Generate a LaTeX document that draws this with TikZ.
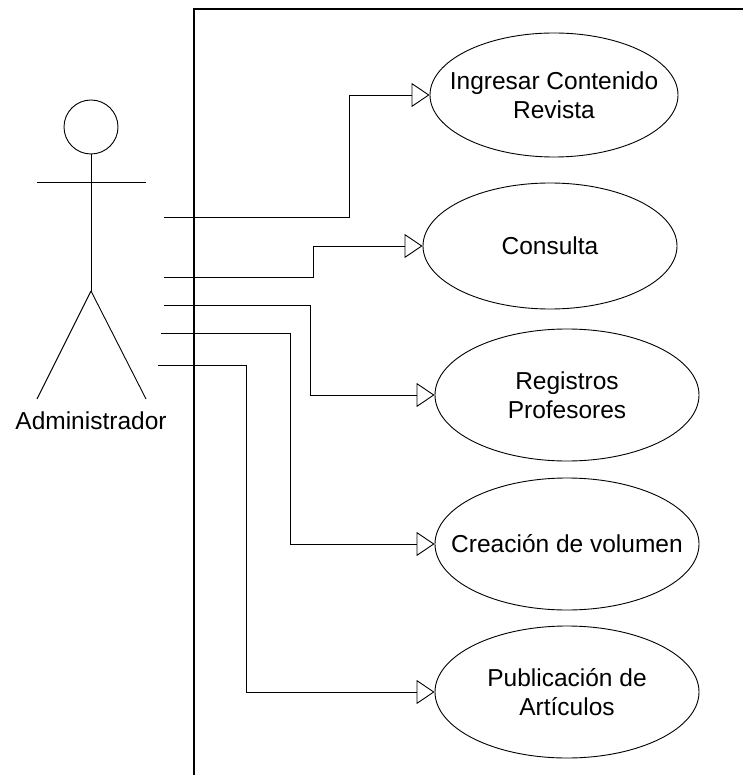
\documentclass[tikz,border=0pt]{standalone}
\usepackage{fontspec}
\setmainfont{Liberation Sans}
\usetikzlibrary{shapes.geometric,arrows.meta}
\tikzset{
  usecase/.style={draw,ellipse,inner sep=0pt,minimum width=264pt,minimum height=132pt},
  uctext/.style={align=center,font=\fontsize{24.5}{29}\selectfont},
  assoc/.style={-{Triangle[open,length=18pt,width=24pt]},line width=0.9pt}
}
\begin{document}
\begin{tikzpicture}[x=1pt,y=-1pt,line width=0.9pt]
\useasboundingbox (0,0) rectangle (743,775);
\draw[line width=1.4pt] (194,775) -- (194,9) -- (743,9);
% actor
\draw (91,127) coordinate (head) circle [radius=27];
\draw (91,154) -- (91,291) coordinate (hip);
\draw (37,182) -- (146,182);
\draw (hip) -- (37,399);
\draw (hip) -- (146,399);
\node[uctext] (admin) at (91,421) {Administrador};
% use cases
\node[usecase,minimum width=248pt,minimum height=124pt] (ingresar) at (554,95) {};
\node[usecase,minimum width=254pt,minimum height=126pt] (consulta) at (550,246) {};
\node[usecase] (registros) at (567,395) {};
\node[usecase] (creacion) at (567,544) {};
\node[usecase] (publicacion) at (567,692) {};
\node[uctext] at (ingresar) {Ingresar Contenido\\Revista};
\node[uctext] at (consulta) {Consulta};
\node[uctext] at (registros) {Registros\\Profesores};
\node[uctext] at (creacion) {Creación de volumen};
\node[uctext] at (publicacion) {Publicación de\\Artículos};
% associations
\coordinate (a1) at (164,217); \coordinate (k1) at (349,217);
\coordinate (a2) at (164,277); \coordinate (k2) at (313,277);
\coordinate (a3) at (164,305); \coordinate (k3) at (310,305);
\coordinate (a4) at (161,333); \coordinate (k4) at (290,333);
\coordinate (a5) at (158,365); \coordinate (k5) at (246,365);
\draw[assoc] (a1) -- (k1) |- (ingresar.west);
\draw[assoc] (a2) -- (k2) |- (consulta.west);
\draw[assoc] (a3) -- (k3) |- (registros.west);
\draw[assoc] (a4) -- (k4) |- (creacion.west);
\draw[assoc] (a5) -- (k5) |- (publicacion.west);
\end{tikzpicture}
\end{document}
